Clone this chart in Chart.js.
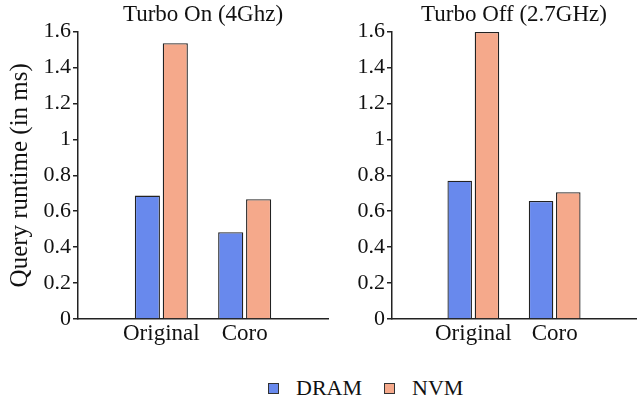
<!DOCTYPE html>
<html>
<head>
<meta charset="utf-8">
<script src="https://cdn.jsdelivr.net/npm/chart.js@4.4.1/dist/chart.umd.min.js"></script>
<style>
  body { margin: 0; background: #fff; }
  #wrap { position: relative; width: 638px; height: 402px; font-family: "Liberation Serif", serif; color: #111; }
  #left { position: absolute; left: 0; top: 0; }
  #right { position: absolute; left: 330px; top: 0; }
  .key { position: absolute; top: 376px; font-size: 22px; line-height: 24px; }
  .sw { position: absolute; width: 9px; height: 9px; border: 1px solid #333; top: 7px; }
</style>
</head>
<body>
<div id="wrap">
  <canvas id="left" width="330" height="350"></canvas>
  <canvas id="right" width="308" height="350"></canvas>
  <div class="key" style="left:268px"><span class="sw" style="left:0;background:#6889ed"></span><span style="position:absolute;left:28px">DRAM</span></div>
  <div class="key" style="left:384px"><span class="sw" style="left:0;background:#f5a98b"></span><span style="position:absolute;left:28px">NVM</span></div>
</div>
<script>
// category slots: empty ones pad both ends of the axis
const categories = ["", "Original", "Coro", ""];
const seriesNames = ["DRAM", "NVM"];
const seriesColors = ["#6889ed", "#f5a98b"];
const yTicks = [0, 0.2, 0.4, 0.6, 0.8, 1, 1.2, 1.4, 1.6];

const turboOnDram = [null, 0.687, 0.483, null];
const turboOnNvm = [null, 1.535, 0.667, null];
const turboOffDram = [null, 0.770, 0.657, null];
const turboOffNvm = [null, 1.598, 0.706, null];

const FONT = "'Liberation Serif', serif";
const INK = "#222";

Chart.defaults.font.family = FONT;
Chart.defaults.font.size = 22;
Chart.defaults.color = "#111";

function makeChart(id, title, dram, nvm, yWidth, showYTitle) {
    const ctx = document.getElementById(id).getContext("2d");
    return new Chart(ctx, {
        type: "bar",
        data: {
            labels: categories,
            datasets: [dram, nvm].map((values, i) => ({
                label: seriesNames[i],
                data: values,
                backgroundColor: seriesColors[i],
                borderColor: INK,
                borderWidth: 1.3,
                borderSkipped: "bottom",
                categoryPercentage: 0.67,
                barPercentage: 0.9,
            })),
        },
        options: {
            responsive: false,
            animation: false,
            layout: { padding: { left: 0, right: 2, top: 0, bottom: 0 } },
            plugins: {
                legend: { display: false },
                tooltip: { enabled: false },
                title: {
                    display: true,
                    text: title,
                    fullSize: false,
                    font: { family: FONT, size: 23, weight: "normal" },
                    padding: { top: 1, bottom: 3 },
                },
            },
            scales: {
                x: {
                    offset: false,
                    grid: { display: false, drawTicks: false },
                    border: { display: true, color: INK, width: 1.5 },
                    ticks: { font: { family: FONT, size: 23, weight: "normal" }, padding: 1, autoSkip: false, maxRotation: 0 },
                    afterFit: (scale) => { scale.height = 31; },
                },
                y: {
                    min: 0,
                    max: 1.6,
                    afterBuildTicks: (scale) => { scale.ticks = yTicks.map(v => ({ value: v })); },
                    grid: { drawOnChartArea: false, drawTicks: true, tickLength: 5, color: INK, lineWidth: 1.5 },
                    border: { display: true, color: INK, width: 1.5 },
                    ticks: {
                        font: { family: FONT, size: 22, weight: "normal" },
                        padding: 2,
                        callback: (v) => String(+Number(v).toFixed(1)),
                    },
                    title: {
                        display: showYTitle,
                        text: "Query runtime (in ms)",
                        font: { family: FONT, size: 25 },
                        padding: { top: 5, bottom: 0 },
                    },
                    afterFit: (scale) => { scale.width = yWidth; },
                },
            },
        },
    });
}

function draw() {
    makeChart("left", "Turbo On (4Ghz)", turboOnDram, turboOnNvm, 78, true);
    makeChart("right", "Turbo Off (2.7GHz)", turboOffDram, turboOffNvm, 62, false);
}

Promise.all([
    document.fonts.load("22px 'Liberation Serif'"),
    document.fonts.load("25px 'Liberation Serif'"),
]).then(draw, draw);
</script>
</body>
</html>
